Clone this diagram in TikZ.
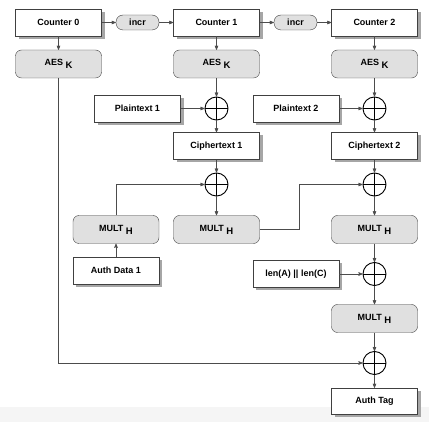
\documentclass[tikz,border=0pt]{standalone}
\usepackage{fontspec}
\setmainfont{Liberation Sans}
\usetikzlibrary{arrows,shadows,positioning}

\newcommand{\keyidx}[1]{\hspace{2.5pt}\raisebox{-3pt}{\fontsize{9.5}{10}\selectfont #1}}

\begin{document}
\begin{tikzpicture}[x=1pt,y=-1pt,>=stealth',font=\bfseries\fontsize{9}{10}\selectfont]
		\tikzstyle{box}=[rectangle, draw=black!75, fill=white, minimum width=86pt, minimum height=27pt, drop shadow={shadow xshift=3pt, shadow yshift=-3pt, fill=black!35, opacity=1}]
		\tikzstyle{func}=[rectangle, rounded corners=6pt, draw=black!75, fill=black!12, minimum width=86pt, minimum height=28pt]
		\tikzstyle{pill}=[rectangle, rounded corners=7pt, draw=black!75, fill=black!12, minimum width=43pt, minimum height=15pt, inner sep=0pt]
		\tikzstyle{xor}=[circle, draw=black, line width=0.9pt, minimum size=23pt, inner sep=0pt,
			path picture={\draw[line width=0.7pt] (path picture bounding box.north) -- (path picture bounding box.south)
				(path picture bounding box.west) -- (path picture bounding box.east);}]
		\tikzstyle{flow}=[->, draw=black!70, line width=0.6pt]

		\useasboundingbox (0,0) rectangle (429,422);
		\fill[black!4] (0,407) rectangle (429,422);

		\node [box] (ctr0) at (58.5,22.5) {Counter 0};
		\node [pill] (incr1) at (137.5,22.5) {incr};
		\node [box] (ctr1) at (216.5,22.5) {Counter 1};
		\node [pill] (incr2) at (295.5,22.5) {incr};
		\node [box] (ctr2) at (374.5,22.5) {Counter 2};

		\node [func] (aes0) at (58.5,64) {AES\keyidx{K}};
		\node [func] (aes1) at (216.5,64) {AES\keyidx{K}};
		\node [func] (aes2) at (374.5,64) {AES\keyidx{K}};

		\node [box] (pt1) at (137.5,108.5) {Plaintext 1};
		\node [xor] (xor1) at (216.5,108.5) {};
		\node [box] (pt2) at (296,108.5) {Plaintext 2};
		\node [xor] (xor2) at (374.5,108.5) {};

		\node [box] (ct1) at (216.5,146) {Ciphertext 1};
		\node [box] (ct2) at (374.5,146) {Ciphertext 2};
		\node [xor] (xor3) at (216.5,184.5) {};
		\node [xor] (xor4) at (374.5,184.5) {};

		\node [func] (mult1) at (116,229.5) {MULT\keyidx{H}};
		\node [func] (mult2) at (216.5,229.5) {MULT\keyidx{H}};
		\node [func] (mult3) at (374.5,229.5) {MULT\keyidx{H}};
		\node [box] (ad1) at (116,270.5) {Auth Data 1};
		\node [box] (lenac) at (296,274) {len(A) || len(C)};
		\node [xor] (xor5) at (374.5,274) {};
		\node [func] (mult4) at (374.5,318.5) {MULT\keyidx{H}};
		\node [xor] (xor6) at (374.5,363) {};
		\node [box, minimum height=26pt] (tag) at (374.5,401) {Auth Tag};

		% counters
		\draw [flow] (ctr0) -- (incr1);
		\draw [flow] (incr1) -- (ctr1);
		\draw [flow] (ctr1) -- (incr2);
		\draw [flow] (incr2) -- (ctr2);
		\draw [flow] (ctr0) -- (aes0);
		\draw [flow] (ctr1) -- (aes1);
		\draw [flow] (ctr2) -- (aes2);

		% encryption
		\draw [flow] (aes1) -- (xor1);
		\draw [flow] (pt1) -- (xor1);
		\draw [flow] (xor1) -- (ct1);
		\draw [flow] (aes2) -- (xor2);
		\draw [flow] (pt2) -- (xor2);
		\draw [flow] (xor2) -- (ct2);

		% hashing
		\draw [flow] (ad1) -- (mult1);
		\draw [flow] (mult1.north) |- (xor3);
		\draw [flow] (ct1) -- (xor3);
		\draw [flow] (xor3) -- (mult2);
		\draw [flow] (mult2.east) -- ++(40,0) |- (xor4);
		\draw [flow] (ct2) -- (xor4);
		\draw [flow] (xor4) -- (mult3);
		\draw [flow] (mult3) -- (xor5);
		\draw [flow] (lenac) -- (xor5);
		\draw [flow] (xor5) -- (mult4);
		\draw [flow] (mult4) -- (xor6);
		\draw [flow] (aes0.south) |- (xor6);
		\draw [flow] (xor6) -- (tag);
	\end{tikzpicture}
\end{document}
